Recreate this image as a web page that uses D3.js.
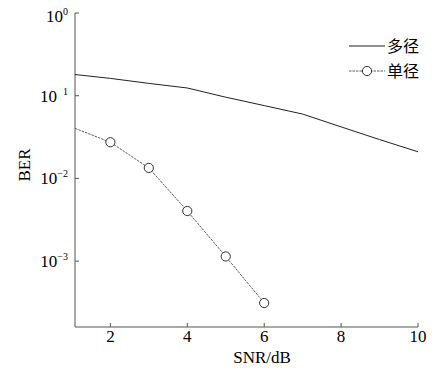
<!DOCTYPE html>
<html>
<head>
<meta charset="utf-8">
<script src="https://cdn.jsdelivr.net/npm/d3@7"></script>
<style>
  body { margin: 0; background: #fff; }
  svg { display: block; }
</style>
</head>
<body>
<div id="chart"></div>
<script>
// data
const snr = [1, 2, 3, 4, 5, 6, 7, 8, 9, 10];
const multipath = [0.182, 0.162, 0.141, 0.124, 0.096, 0.076, 0.060, 0.042, 0.0295, 0.021];
const snrSingle = [1, 2, 3, 4, 5, 6];
const singlepath = [0.0417, 0.0274, 0.0134, 0.00404, 0.00114, 0.000312];
const xTicks = [2, 4, 6, 8, 10];
const yTicks = [1, 0.1, 0.01, 0.001];
const yTickSup = ["0", "1", "\u22122", "\u22123"];
const seriesNames = ["多径", "单径"];

const width = 432;
const height = 373;

const svg = d3.select("#chart")
  .append("svg")
    .attr("width", width)
    .attr("height", height);

// scales
const x = d3.scaleLinear()
  .domain([1.08, 10])
  .range([75, 418]);
const y = d3.scaleLog()
  .domain([1.6e-4, 1])
  .range([327, 13]);

const serif = "'Liberation Serif', 'DejaVu Serif', serif";
const cjk = "'Noto Sans CJK SC', sans-serif";
const axisColor = "#555";

// clip so the first segment starts at the y axis
svg.append("clipPath").attr("id", "plotclip")
  .append("rect")
    .attr("x", x.range()[0])
    .attr("y", y.range()[1] - 10)
    .attr("width", x.range()[1] - x.range()[0] + 10)
    .attr("height", y.range()[0] - y.range()[1] + 10);

// axes lines
svg.append("line")
  .attr("x1", x.range()[0]).attr("x2", x.range()[0])
  .attr("y1", y.range()[1]).attr("y2", y.range()[0])
  .attr("stroke", axisColor).attr("stroke-width", 1);
svg.append("line")
  .attr("x1", x.range()[0]).attr("x2", x.range()[1])
  .attr("y1", y.range()[0]).attr("y2", y.range()[0])
  .attr("stroke", axisColor).attr("stroke-width", 1);

// x ticks (inward)
svg.selectAll(".xtick")
  .data(xTicks)
  .join("line")
  .attr("class", "xtick")
  .attr("x1", d => x(d)).attr("x2", d => x(d))
  .attr("y1", y.range()[0]).attr("y2", y.range()[0] - 4)
  .attr("stroke", axisColor);

svg.selectAll(".xlabel")
  .data(xTicks)
  .join("text")
  .attr("class", "xlabel")
  .attr("x", d => x(d))
  .attr("y", 342)
  .attr("text-anchor", "middle")
  .style("font-family", serif)
  .style("font-size", "17px")
  .text(d => d);

// y ticks (inward)
svg.selectAll(".ytick")
  .data(yTicks)
  .join("line")
  .attr("class", "ytick")
  .attr("x1", x.range()[0]).attr("x2", x.range()[0] + 4)
  .attr("y1", d => y(d)).attr("y2", d => y(d))
  .attr("stroke", axisColor);

const ylab = svg.selectAll(".ylabel")
  .data(yTicks)
  .join("text")
  .attr("class", "ylabel")
  .attr("x", 68)
  .attr("y", (d, i) => y(d) + (i === 0 ? 9 : 6))
  .attr("text-anchor", "end")
  .style("font-family", serif)
  .style("font-size", "17px");
ylab.append("tspan").text("10");
ylab.append("tspan")
  .attr("dy", -7)
  .attr("dx", (d, i) => i === 1 ? 6 : 0)
  .style("font-size", "10px")
  .text((d, i) => i === 1 ? "1" : yTickSup[i]);

// axis titles
svg.append("text")
  .attr("x", 262)
  .attr("y", 363)
  .attr("text-anchor", "middle")
  .style("font-family", serif)
  .style("font-size", "17px")
  .text("SNR/dB");

svg.append("text")
  .attr("transform", "translate(30,165) rotate(-90)")
  .attr("text-anchor", "middle")
  .style("font-family", serif)
  .style("font-size", "17px")
  .text("BER");

// lines
const line = d3.line()
  .x(d => x(d[0]))
  .y(d => y(d[1]));

const plot = svg.append("g").attr("clip-path", "url(#plotclip)");

plot.append("path")
  .datum(d3.zip(snr, multipath))
  .attr("d", line)
  .attr("fill", "none")
  .attr("stroke", "#222")
  .attr("stroke-width", 1);

plot.append("path")
  .datum(d3.zip(snrSingle, singlepath))
  .attr("d", line)
  .attr("fill", "none")
  .attr("stroke", "#333")
  .attr("stroke-width", 0.8)
  .attr("stroke-dasharray", "2.5,1");

plot.selectAll(".marker")
  .data(d3.zip(snrSingle, singlepath).filter(d => d[0] >= 2))
  .join("circle")
  .attr("class", "marker")
  .attr("cx", d => x(d[0]))
  .attr("cy", d => y(d[1]))
  .attr("r", 4.6)
  .attr("fill", "#fff")
  .attr("stroke", "#333")
  .attr("stroke-width", 1);

// legend
const legend = svg.append("g");
legend.append("line")
  .attr("x1", 349).attr("x2", 385)
  .attr("y1", 46).attr("y2", 46)
  .attr("stroke", "#222").attr("stroke-width", 1);
legend.append("line")
  .attr("x1", 349).attr("x2", 385)
  .attr("y1", 71).attr("y2", 71)
  .attr("stroke", "#333").attr("stroke-width", 0.8)
  .attr("stroke-dasharray", "2.5,1");
legend.append("circle")
  .attr("cx", 367).attr("cy", 71).attr("r", 4.6)
  .attr("fill", "#fff").attr("stroke", "#333");

legend.selectAll(".legtext")
  .data(seriesNames)
  .join("text")
  .attr("class", "legtext")
  .attr("x", 387)
  .attr("y", (d, i) => 52 + i * 25)
  .style("font-family", cjk)
  .style("font-size", "16px")
  .text(d => d);
</script>
</body>
</html>
